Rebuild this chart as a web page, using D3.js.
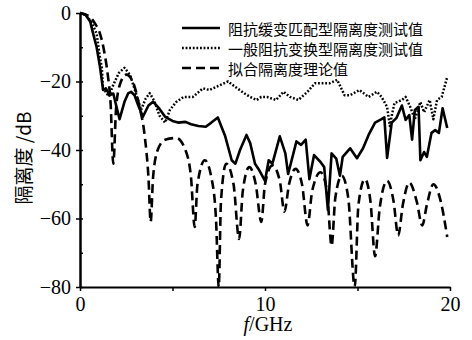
<!DOCTYPE html>
<html>
<head>
<meta charset="utf-8">
<script src="https://cdn.jsdelivr.net/npm/d3@7"></script>
<style>
  body { margin: 0; background: #fff; }
  svg { display: block; }
</style>
</head>
<body>
<div id="chart"></div>
<script>
// frequency (GHz), isolation (dB)
const taperedMeasured = [[0,0],[0.3,-0.5],[0.55,-2.5],[0.7,-5.8],[0.9,-10],[1.08,-15.7],[1.25,-22.5],[1.4,-22],[1.6,-24],[1.8,-23.5],[2.0,-28],[2.14,-31],[2.4,-26],[2.6,-23.5],[2.76,-23],[2.95,-24],[3.15,-27],[3.4,-30.3],[3.7,-27],[3.95,-25.9],[4.3,-28],[4.6,-30.3],[5.0,-31.5],[5.3,-32],[5.7,-31.8],[6.0,-32.5],[6.4,-33],[6.8,-33.2],[7.1,-32],[7.45,-30.5],[7.85,-36],[8.2,-43],[8.4,-44],[8.65,-40],[9.0,-35.6],[9.2,-38],[9.46,-44],[9.7,-46],[10.0,-49],[10.2,-43],[10.4,-44],[10.8,-36],[11.1,-41],[11.25,-47],[11.7,-37.5],[11.95,-38.5],[12.2,-37],[12.4,-48.5],[12.65,-41.5],[13.0,-43.5],[13.2,-45],[13.4,-57.5],[13.6,-41],[13.85,-42.5],[14.05,-47.5],[14.2,-42],[14.6,-39.5],[14.97,-42.4],[15.3,-39.5],[15.6,-35.6],[15.95,-32],[16.3,-31],[16.45,-30.5],[16.6,-42.3],[16.85,-32],[17.1,-30.7],[17.4,-27],[17.6,-31.2],[17.8,-29.8],[17.95,-37],[18.1,-28.3],[18.3,-27.4],[18.4,-43],[18.6,-40.6],[18.75,-42],[19.0,-35],[19.2,-34.2],[19.4,-35],[19.6,-27.8],[19.85,-33.6]];

const commonMeasured = [[0,0],[0.3,-0.5],[0.6,-2.5],[0.9,-6],[1.05,-12],[1.18,-16],[1.25,-22.5],[1.4,-23],[1.55,-24.4],[1.8,-21],[2.1,-17.5],[2.4,-16],[2.7,-18],[3.0,-23],[3.3,-28.3],[3.55,-25],[3.77,-23.4],[4.0,-25.5],[4.3,-30],[4.6,-32],[4.86,-28.3],[5.2,-26],[5.6,-24.5],[6.1,-24.5],[6.65,-22],[7.0,-22.5],[7.4,-21.5],[8.0,-20],[8.5,-22],[8.9,-23.5],[9.2,-24.5],[9.55,-25.4],[9.8,-24.5],[10.1,-24.5],[10.6,-25.4],[11.0,-23],[11.35,-24.5],[11.8,-25.4],[12.3,-23],[12.7,-20.5],[13.1,-20.5],[13.5,-20.5],[13.9,-19.5],[14.3,-24],[14.6,-24],[15.1,-22.5],[15.6,-24.5],[16.05,-23],[16.3,-24.5],[16.6,-27.4],[16.75,-33],[16.85,-30],[17.0,-26.3],[17.4,-25.4],[17.6,-24.5],[17.85,-27.4],[18.1,-31],[18.4,-26],[18.6,-29],[18.9,-25.4],[19.1,-31],[19.3,-25.4],[19.55,-24.5],[19.85,-18.7]];

const fittedTheory = [[0,0],[0.5,-1],[0.8,-3],[1.08,-6],[1.3,-11],[1.5,-18],[1.65,-26],[1.8,-44],[1.95,-28],[2.15,-21],[2.5,-18],[2.85,-20],[3.2,-27],[3.5,-36],[3.7,-48],[3.82,-61],[3.95,-48],[4.2,-40],[4.6,-37],[5.2,-36.5],[5.7,-40],[6.0,-48],[6.2,-62.5],[6.35,-50],[6.75,-43],[7.1,-48],[7.35,-60],[7.5,-80],[7.62,-55],[7.9,-44],[8.3,-50],[8.6,-66],[8.8,-52],[9.15,-45],[9.5,-50],[9.8,-61],[10.0,-50],[10.4,-44.5],[10.8,-49],[11.05,-58],[11.3,-50],[11.65,-45.5],[12.0,-50],[12.3,-62],[12.55,-52],[13.0,-46.5],[13.35,-52],[13.6,-68],[13.8,-54],[14.15,-47.5],[14.5,-54],[14.85,-80],[15.05,-56],[15.4,-48.5],[15.7,-55],[15.95,-71],[16.2,-57],[16.6,-49],[16.95,-55],[17.2,-65],[17.45,-56],[17.8,-49.5],[18.2,-55],[18.5,-62],[18.75,-56],[19.1,-50],[19.5,-55],[19.85,-65.4]];

const seriesNames = ["阻抗缓变匹配型隔离度测试值", "一般阻抗变换型隔离度测试值", "拟合隔离度理论值"];
const xTicks = [0, 5, 10, 15, 20];
const xLabels = [0, 10, 20];
const yTicks = [0, -20, -40, -60, -80];
const yMinorTicks = [-10, -30, -50, -70];

const width = 472, height = 340;
const serif = "'Liberation Serif', 'Times New Roman', serif";
const cjk = "'Noto Sans CJK SC', sans-serif";

const svg = d3.select("#chart").append("svg")
    .attr("width", width)
    .attr("height", height);

const x = d3.scaleLinear().domain([0, 20]).range([80, 450]);
const y = d3.scaleLinear().domain([-80, 0]).range([287, 13]);

// y axis
const yAxis = svg.append("g")
    .attr("transform", "translate(80,0)")
    .call(d3.axisLeft(y).tickValues(yTicks).tickSize(4).tickSizeOuter(0).tickPadding(5));
yAxis.select(".domain").attr("stroke-width", 2.5);
yAxis.selectAll(".tick line").attr("stroke-width", 1.5).attr("x2", -4).attr("x1", 3);
yAxis.selectAll("text").style("font-family", serif).style("font-size", "20px").attr("fill", "#000");

svg.append("g")
    .attr("transform", "translate(80,0)")
    .call(d3.axisRight(y).tickValues(yMinorTicks).tickSize(3).tickFormat(""))
    .call(g => g.select(".domain").remove())
    .selectAll(".tick line").attr("stroke-width", 1.5);

// x axis
const xAxis = svg.append("g")
    .attr("transform", "translate(0,287)")
    .call(d3.axisBottom(x).tickValues(xTicks).tickSize(4).tickSizeOuter(0).tickPadding(6)
        .tickFormat(d => xLabels.includes(d) ? d : ""));
xAxis.select(".domain").attr("stroke-width", 2);
xAxis.selectAll(".tick line").attr("stroke-width", 1.5);
xAxis.selectAll("text").style("font-family", serif).style("font-size", "20px").attr("fill", "#000");

// axis titles
svg.append("text")
    .attr("transform", "translate(22,158) rotate(-90)")
    .attr("text-anchor", "middle")
    .attr("dominant-baseline", "central")
    .style("font-family", cjk)
    .style("font-size", "19px")
    .text("隔离度 /dB");

const xt = svg.append("text")
    .attr("x", 268).attr("y", 331)
    .attr("text-anchor", "middle")
    .style("font-family", serif)
    .style("font-size", "20px");
xt.append("tspan").style("font-style", "italic").text("f");
xt.append("tspan").text("/GHz");

// lines
const styles = [
    {data: taperedMeasured, width: 2.6, dash: null, curve: d3.curveLinear},
    {data: commonMeasured, width: 2.5, dash: "1.8,1.8", curve: d3.curveLinear},
    {data: fittedTheory, width: 2.6, dash: "9,5", curve: d3.curveMonotoneX}
];

styles.slice().reverse().forEach(s => {
    const line = d3.line().x(d => x(d[0])).y(d => y(d[1])).curve(s.curve);
    svg.append("path")
        .datum(s.data)
        .attr("fill", "none")
        .attr("stroke", "#000")
        .attr("stroke-width", s.width)
        .attr("stroke-linejoin", "round")
        .attr("stroke-dasharray", s.dash)
        .attr("d", line);
});

// legend
const legend = svg.append("g");
seriesNames.forEach((name, i) => {
    const ly = 28 + i * 20;
    legend.append("line")
        .attr("x1", 182).attr("x2", 220)
        .attr("y1", ly).attr("y2", ly)
        .attr("stroke", "#000")
        .attr("stroke-width", styles[i].width)
        .attr("stroke-dasharray", styles[i].dash);
    legend.append("text")
        .attr("x", 228).attr("y", ly)
        .attr("dominant-baseline", "central")
        .style("font-family", cjk)
        .style("font-size", "15px")
        .text(name);
});
</script>
</body>
</html>
